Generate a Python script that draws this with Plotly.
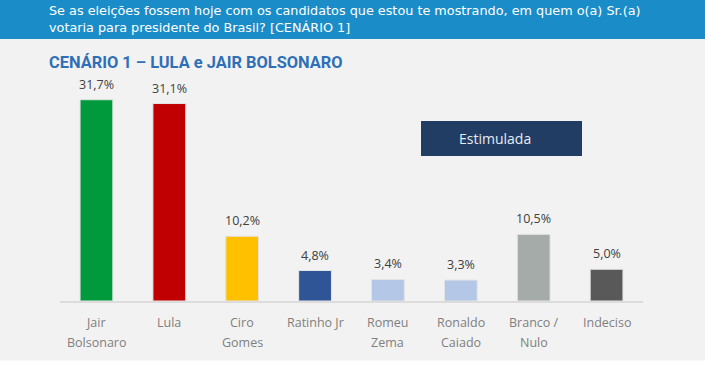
import plotly.graph_objects as go

# ---- data ----
categories = ["Jair Bolsonaro", "Lula", "Ciro Gomes", "Ratinho Jr", "Romeu Zema",
              "Ronaldo Caiado", "Branco / Nulo", "Indeciso"]
label_line1 = ["Jair", "Lula", "Ciro", "Ratinho Jr", "Romeu", "Ronaldo", "Branco /", "Indeciso"]
label_line2 = ["Bolsonaro", "", "Gomes", "", "Zema", "Caiado", "Nulo", ""]
values = [31.7, 31.1, 10.2, 4.8, 3.4, 3.3, 10.5, 5.0]
value_labels = ["31,7%", "31,1%", "10,2%", "4,8%", "3,4%", "3,3%", "10,5%", "5,0%"]
bar_colors = ["#009a3d", "#c00000", "#ffc000", "#2f5597", "#b4c7e7", "#b4c7e7", "#a5aba9", "#595959"]

header_lines = ["Se as eleições fossem hoje com os candidatos que estou te mostrando, em quem o(a) Sr.(a)",
                "votaria para presidente do Brasil? [CENÁRIO 1]"]
title_text = "CENÁRIO 1 – LULA e JAIR BOLSONARO"
box_text = "Estimulada"

# ---- layout geometry (pixels) ----
W, H = 705, 373
L, R, T, B = 60, 62, 80, 72
PW = W - L - R
PH = H - T - B


def xp(px):
    return (px - L) / PW


def yp(py):
    return (H - B - py) / PH


FONT = "Open Sans"

fig = go.Figure()
fig.add_trace(go.Bar(
    x=categories, y=values, width=0.45,
    marker=dict(color=bar_colors, line=dict(color="#e4e4e4", width=1)),
    hoverinfo="x+y",
))

annotations = []
# value labels
for c, v, t in zip(categories, values, value_labels):
    annotations.append(dict(x=c, y=v, xref="x", yref="y", text=t, showarrow=False,
                            yanchor="bottom", yshift=5,
                            font=dict(family=FONT, size=12.5, color="#404040")))
# category labels (two rows)
for c, a, b in zip(categories, label_line1, label_line2):
    annotations.append(dict(x=c, y=yp(322), xref="x", yref="paper", text=a, showarrow=False,
                            yanchor="middle", font=dict(family=FONT, size=12.5, color="#808080")))
    if b:
        annotations.append(dict(x=c, y=yp(342), xref="x", yref="paper", text=b, showarrow=False,
                                yanchor="middle", font=dict(family=FONT, size=12.5, color="#808080")))
# header
annotations.append(dict(x=xp(47), y=yp(19), xref="paper", yref="paper", text="<br>".join(header_lines),
                        showarrow=False, xanchor="left", yanchor="middle", align="left",
                        font=dict(family="DejaVu Sans", size=12.8, color="#ffffff")))
# title
annotations.append(dict(x=xp(47), y=yp(62), xref="paper", yref="paper", text="<b>" + title_text + "</b>",
                        showarrow=False, xanchor="left", yanchor="middle",
                        font=dict(family="Roboto", size=16.4, color="#2e6fb7")))
# box label
annotations.append(dict(x=xp(495), y=yp(138), xref="paper", yref="paper", text=box_text,
                        showarrow=False, xanchor="center", yanchor="middle",
                        font=dict(family=FONT, size=14, color="#e6ecf3")))

shapes = [
    dict(type="rect", xref="paper", yref="paper", x0=xp(0), x1=xp(W), y0=yp(0), y1=yp(39),
         fillcolor="#1a8dc8", line=dict(width=0), layer="below"),
    dict(type="rect", xref="paper", yref="paper", x0=xp(0), x1=xp(W), y0=yp(360.5), y1=yp(H),
         fillcolor="#ffffff", line=dict(width=0), layer="below"),
    dict(type="rect", xref="paper", yref="paper", x0=xp(421), x1=xp(582), y0=yp(121), y1=yp(156),
         fillcolor="#223d63", line=dict(width=0), layer="above"),
]

fig.update_layout(
    width=W, height=H,
    margin=dict(l=L, r=R, t=T, b=B, pad=0),
    paper_bgcolor="#f2f2f2", plot_bgcolor="rgba(0,0,0,0)",
    showlegend=False,
    annotations=annotations, shapes=shapes,
    xaxis=dict(showticklabels=False, showline=True, linecolor="#dcdcdc", linewidth=2,
               showgrid=False, zeroline=False, ticks="", range=[-0.5, 7.5], fixedrange=True),
    yaxis=dict(visible=False, range=[0, PH / 6.35], showgrid=False, zeroline=False, fixedrange=True),
    bargap=0.55,
)

fig.write_html("out.html", config={"displayModeBar": False},
               post_script="document.body.style.margin='0';document.body.style.overflow='hidden';")
